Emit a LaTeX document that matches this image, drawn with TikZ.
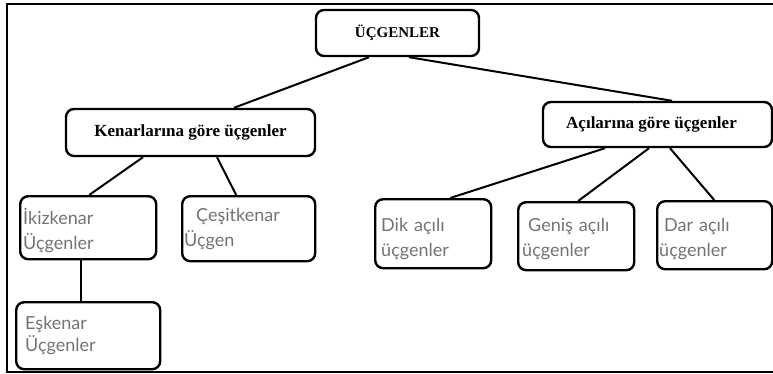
\documentclass[tikz,border=0pt]{standalone}
\usepackage{fontspec}
\setmainfont{Liberation Serif}
\newfontfamily\handfont{Lato}
\begin{document}
\begin{tikzpicture}[x=1pt,y=-1pt,
  printed/.style={draw=black, line width=2.4pt, rounded corners=8pt, inner sep=0pt,
    font=\fontsize{17}{20}\selectfont\bfseries},
  handbox/.style={draw=black, line width=2.4pt, rounded corners=8pt, anchor=north west,
    inner ysep=0pt, align=left, text=black!55,
    font=\handfont\fontsize{18}{25}\selectfont},
  link/.style={line width=2pt, draw=black}]
  \useasboundingbox (0,0) rectangle (773,374);

  % outer frame (open on the right)
  \draw[line width=2.5pt] (773,4) -- (7,4) -- (7,372) -- (773,372);

  % printed headings
  \node[printed, minimum width=163pt, minimum height=46pt, font=\fontsize{15}{18}\selectfont\bfseries]
    (top) at (397.5,33) {ÜÇGENLER};
  \node[printed, minimum width=249pt, minimum height=47pt] (kenar) at (190.5,132.5) {Kenarlarına göre üçgenler};
  \node[printed, minimum width=229pt, minimum height=45pt] (acil) at (657.5,124.5) {\hspace*{-12pt}Açılarına göre üçgenler};

  % handwritten leaves
  \node[handbox, inner xsep=3pt, text width=130pt, text height=28pt, text depth=35pt]
    (ikiz) at (19,195) {İkizkenar\\Üçgenler};
  \node[handbox, inner xsep=2pt, text width=129pt, text height=25pt, text depth=40pt]
    (cesit) at (181,195) {\hspace*{12pt}Çeşitkenar\\Üçgen};
  \node[handbox, inner xsep=9pt, text width=126pt, text height=27pt, text depth=40pt]
    (esk) at (15,301) {Eşkenar\\[-3pt]Üçgenler};
  \node[handbox, inner xsep=6pt, text width=104pt, text height=32pt, text depth=37pt]
    (dik) at (374,198) {Dik açılı\\üçgenler};
  \node[handbox, inner xsep=4pt, text width=108pt, text height=29pt, text depth=39pt]
    (genis) at (517,201) {\hspace*{6pt}Geniş açılı\\üçgenler};
  \node[handbox, inner xsep=2pt, text width=111pt, text height=30pt, text depth=38pt]
    (dar) at (656,200) {\hspace*{5pt}Dar açılı\\üçgenler};

  % connectors
  \draw[link] ([xshift=-28.5pt]top.south) -- ([xshift=43.5pt]kenar.north);
  \draw[link] ([xshift=11.5pt]top.south) -- ([xshift=14.5pt]acil.north);
  \draw[link] ([xshift=-47.5pt]kenar.south) -- ([xshift=1pt]ikiz.north);
  \draw[link] ([xshift=26.5pt]kenar.south) -- ([xshift=-12.5pt]cesit.north);
  \draw[link] ([xshift=-7pt]ikiz.south) -- ([xshift=-7pt]esk.north);
  \draw[link] ([xshift=-52.5pt]acil.south) -- ([xshift=17pt]dik.north);
  \draw[link] ([xshift=-8.5pt]acil.south) -- ([xshift=2pt]genis.north);
  \draw[link] ([xshift=12.5pt]acil.south) -- ([xshift=-0.5pt]dar.north);
\end{tikzpicture}
\end{document}
